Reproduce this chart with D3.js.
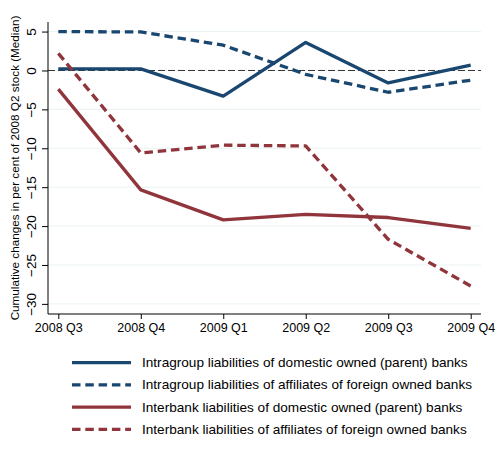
<!DOCTYPE html>
<html>
<head>
<meta charset="utf-8">
<script src="https://cdn.jsdelivr.net/npm/d3@7"></script>
<style>
  html, body { margin: 0; padding: 0; background: #fff; }
  svg { display: block; font-family: "Liberation Sans", Arial, sans-serif; }
</style>
</head>
<body>
<svg id="chart" width="497" height="463"></svg>
<script>
// Quarters on the x axis
const quarters = ["2008 Q3", "2008 Q4", "2009 Q1", "2009 Q2", "2009 Q3", "2009 Q4"];

// Cumulative changes, per cent of 2008 Q2 stock (median)
const intragroupDomestic = [0.2, 0.2, -3.3, 3.6, -1.6, 0.7];
const intragroupForeign  = [5.0, 4.95, 3.25, -0.5, -2.8, -1.25];
const interbankDomestic  = [-2.4, -15.35, -19.2, -18.5, -18.9, -20.3];
const interbankForeign   = [2.2, -10.6, -9.6, -9.7, -21.7, -27.7];

const yTicks = [5, 0, -5, -10, -15, -20, -25, -30];

const seriesNames = [
  "Intragroup liabilities of domestic owned (parent) banks",
  "Intragroup liabilities of affiliates of foreign owned banks",
  "Interbank liabilities of domestic owned (parent) banks",
  "Interbank liabilities of affiliates of foreign owned banks"
];

const navy = "#1a476f", maroon = "#90353b";
const series = [
  { name: seriesNames[0], values: intragroupDomestic, color: navy,   dash: null },
  { name: seriesNames[1], values: intragroupForeign,  color: navy,   dash: "8.5,4.8" },
  { name: seriesNames[2], values: interbankDomestic,  color: maroon, dash: null },
  { name: seriesNames[3], values: interbankForeign,   color: maroon, dash: "8.5,4.8" }
];

const svg = d3.select("#chart");
const plot = { left: 48, right: 481, top: 22, bottom: 314 };

const x = d3.scaleLinear().domain([-0.125, 5.125]).range([plot.left, plot.right]);
const y = d3.scaleLinear().domain([6.23, -31.3]).range([plot.top, plot.bottom]);

// Horizontal gridlines
svg.append("g").selectAll("line").data(yTicks).join("line")
  .attr("x1", plot.left).attr("x2", plot.right)
  .attr("y1", d => y(d)).attr("y2", d => y(d))
  .attr("stroke", "#eaf2f3").attr("stroke-width", 1);

// Reference line at zero
svg.append("line")
  .attr("x1", plot.left).attr("x2", plot.right)
  .attr("y1", y(0)).attr("y2", y(0))
  .attr("stroke", "#333").attr("stroke-width", 1)
  .attr("stroke-dasharray", "7,3");

// Y axis
const yAxis = d3.axisLeft(y).tickValues(yTicks).tickSize(6).tickPadding(0)
  .tickFormat(d => d < 0 ? "\u2212" + Math.abs(d) : String(d));
const gy = svg.append("g").attr("transform", `translate(${plot.left},0)`).call(yAxis);
gy.select(".domain").attr("d", `M0,${plot.top}V${plot.bottom}`).attr("stroke", "#000");
gy.selectAll(".tick line").attr("stroke", "#000");
gy.selectAll(".tick text")
  .attr("transform", "rotate(-90)")
  .attr("x", 0).attr("y", -12).attr("dy", 0)
  .attr("text-anchor", "middle")
  .attr("font-size", 13.5).attr("fill", "#000");

// X axis
const xAxis = d3.axisBottom(x).tickValues(d3.range(quarters.length)).tickSize(5).tickPadding(4)
  .tickFormat(i => quarters[i]);
const gx = svg.append("g").attr("transform", `translate(0,${plot.bottom})`).call(xAxis);
gx.select(".domain").attr("d", `M${plot.left},0H${plot.right}`).attr("stroke", "#000");
gx.selectAll(".tick line").attr("stroke", "#000");
gx.selectAll(".tick text").attr("font-size", 12.5).attr("fill", "#000");

// Y axis title
svg.append("text")
  .attr("transform", `translate(14.5,${(plot.top + plot.bottom) / 2}) rotate(-90)`)
  .attr("text-anchor", "middle").attr("dominant-baseline", "central")
  .attr("font-size", 11.7).attr("fill", "#000")
  .text("Cumulative changes in per cent of 2008 Q2 stock (Median)");

// Series lines
const line = d3.line().x((d, i) => x(i)).y(d => y(d));
svg.append("g").selectAll("path").data(series).join("path")
  .attr("d", s => line(s.values))
  .attr("fill", "none")
  .attr("stroke", s => s.color)
  .attr("stroke-width", 3.3)
  .attr("stroke-linejoin", "round")
  .attr("stroke-dasharray", s => s.dash);

// Legend
const legend = svg.append("g");
const rows = legend.selectAll("g").data(series).join("g")
  .attr("transform", (s, i) => `translate(0,${362.7 + i * 22.2})`);
rows.append("line")
  .attr("x1", 72).attr("x2", 131).attr("y1", 0).attr("y2", 0)
  .attr("stroke", s => s.color).attr("stroke-width", 3.3)
  .attr("stroke-dasharray", s => s.dash);
rows.append("text")
  .attr("x", 142).attr("y", 0).attr("dominant-baseline", "central")
  .attr("font-size", 13.6).attr("fill", "#000")
  .text(s => s.name);
</script>
</body>
</html>
